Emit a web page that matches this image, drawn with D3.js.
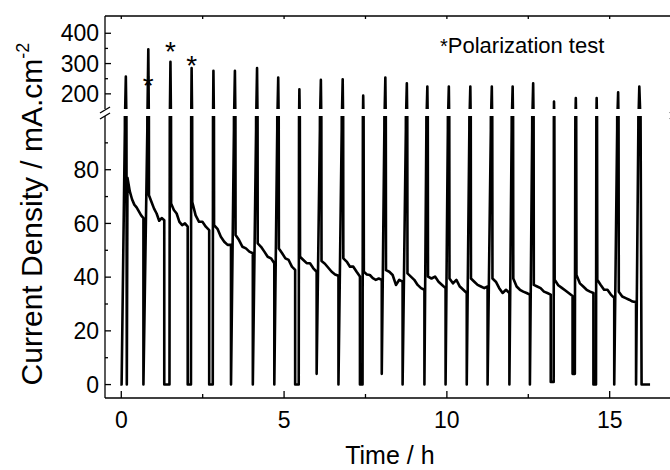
<!DOCTYPE html>
<html><head><meta charset="utf-8">
<script src="https://cdn.jsdelivr.net/npm/d3@7"></script>
<style>html,body{margin:0;padding:0;background:#fff;}svg{display:block;}</style>
</head><body>
<script>
// ---- data (time in hours, current density in mA/cm2) ----
const spikeTime = [0.14, 0.83, 1.51, 2.16, 2.83, 3.49, 4.17, 4.82, 5.47, 6.13, 6.80, 7.43, 8.11, 8.77, 9.40, 10.06, 10.72, 11.38, 12.02, 12.65, 13.29, 13.96, 14.60, 15.26, 15.91];
const spikePeak = [257, 347, 306, 285, 276, 276, 285, 254, 215, 246, 248, 194, 254, 235, 224, 224, 224, 224, 224, 235, 175, 186, 186, 205, 224];
const dropTime  = [0.68, 1.32, 2.04, 2.70, 3.37, 4.04, 4.70, 5.34, 6.00, 6.67, 7.33, 8.00, 8.64, 9.31, 9.96, 10.61, 11.25, 11.92, 12.55, 13.19, 13.86, 14.50, 15.14, 15.81];
const dropMin   = [0, 0, 0, 0, 0, 0, 0, 0, 4, 0, 0, 4, 0, 0, 0, 0, 0, 0, 0, 1, 4, 0, 0, 0];
const riseStart = [0.68, 1.48, 2.14, 2.81, 3.37, 4.04, 4.70, 5.45, 6.00, 6.67, 7.41, 8.00, 8.64, 9.31, 9.96, 10.61, 11.25, 11.92, 12.55, 13.28, 13.93, 14.58, 15.14, 15.81];
const decay = [
  [77, 72, 69, 67, 66, 64.5, 63, 62],
  [70.5, 68, 65.5, 63.7, 61, 62, 61.2],
  [67.4, 65, 63.7, 60.6, 59.4, 60, 58.8],
  [68, 63, 60.6, 60.6, 58.8, 57.5],
  [59.4, 58, 55, 53.2, 52, 52],
  [55.7, 53.8, 51.3, 50.7, 49.5, 48.9],
  [52.6, 51.3, 49.5, 47.6, 47, 45.2],
  [50.7, 48.9, 47, 46.4, 43.9, 42.7],
  [47.6, 46.4, 45.2, 45.2, 43.3, 42],
  [46, 45, 43.5, 42, 41, 40.5],
  [47, 45.8, 43.9, 43.9, 42, 40.2],
  [42, 41, 40.8, 39.6, 39, 39.5, 39],
  [42.6, 42, 40.8, 37.1, 39, 38.3],
  [41.4, 40.2, 39, 37.1, 35.9, 35.3],
  [40.2, 39.5, 40.2, 38.3, 37.1, 35.9],
  [39.5, 37.7, 39, 36.5, 35.3, 34.1],
  [39.5, 38.3, 37.1, 36.5, 35.9, 36.5],
  [39.5, 38.3, 35.9, 34.1, 35.3, 34.1],
  [39.5, 36.5, 35.3, 34.6, 34.1, 33.5],
  [37.1, 36.5, 35.9, 34.6, 34.1, 33.5],
  [39, 37, 36, 35, 34, 33],
  [40.8, 37.7, 36.5, 35.3, 34.6, 34.1],
  [39, 37.1, 35.3, 35.3, 33.5, 32.3],
  [34.6, 32.8, 32.2, 31.6, 30.9, 30.7]
];
const leadTime = [-0.03, 0.01], leadValue = [0, 0];
const firstDipTime = 0.17, firstDipValue = 0, firstRecoverTime = 0.19;
const tailTime = [15.98, 16.24], tailValue = [0, 0];
const polarizedSpikes = [1, 2, 3];
const starValue = [244, 354, 307];
const xTicks = [0, 5, 10, 15];
const xMinorTicks = [2.5, 7.5, 12.5];
const yLowTicks = [0, 20, 40, 60, 80];
const yLowMinor = [10, 30, 50, 70, 90];
const yHighTicks = [200, 300, 400];
const yHighMinor = [250, 350];

// ---- build trace ----
const pts = [];
leadTime.forEach((t, i) => pts.push([t, leadValue[i]]));
spikeTime.forEach((ts, i) => {
  if (i > 0) {
    const j = i - 1;
    pts.push([dropTime[j], dropMin[j]]);
    if (riseStart[j] > dropTime[j]) pts.push([riseStart[j], dropMin[j]]);
    if (ts - riseStart[j] > 0.06) pts.push([ts - 0.03, 95]);
  } else {
    pts.push([ts - 0.03, 95]);
  }
  pts.push([ts, spikePeak[i]]);
  if (i === 0) pts.push([firstDipTime, firstDipValue]);
  if (i < decay.length) {
    const d = decay[i];
    const t0 = i === 0 ? firstRecoverTime : ts + 0.02;
    const t1 = dropTime[i];
    d.forEach((v, k) => pts.push([t0 + k * (t1 - t0) / (d.length - 1), v]));
  }
});
tailTime.forEach((t, i) => pts.push([t, tailValue[i]]));

// ---- layout ----
const W = 670, H = 470;
const L = 105, R = 674.8, T = 16, B = 398;
const upBottom = 109, lowTop = 116;
const FONT = "Arial, 'Liberation Sans', Helvetica, sans-serif";

const svg = d3.select("body").append("svg").attr("width", W).attr("height", H)
  .style("font-family", FONT);

const x = d3.scaleLinear().domain([-0.5, 17]).range([L, R]);
const yLow = d3.scaleLinear().domain([-5, 100]).range([B, lowTop]);
const yHigh = d3.scaleLinear().domain([150, 457]).range([upBottom, T]);

const defs = svg.append("defs");
defs.append("clipPath").attr("id", "clipLow").append("rect")
  .attr("x", L).attr("y", lowTop).attr("width", R - L).attr("height", B - lowTop);
defs.append("clipPath").attr("id", "clipHigh").append("rect")
  .attr("x", L).attr("y", T).attr("width", R - L).attr("height", upBottom - T);

const lineLow = d3.line().x(d => x(d[0])).y(d => yLow(d[1]));
const lineHigh = d3.line().x(d => x(d[0])).y(d => yHigh(d[1]));

svg.append("path").datum(pts).attr("clip-path", "url(#clipLow)")
  .attr("d", lineLow).attr("fill", "none").attr("stroke", "#000")
  .attr("stroke-width", 2.6).attr("stroke-linejoin", "round");
svg.append("path").datum(pts).attr("clip-path", "url(#clipHigh)")
  .attr("d", lineHigh).attr("fill", "none").attr("stroke", "#000")
  .attr("stroke-width", 2.6).attr("stroke-linejoin", "round");

// ---- axes ----
const ax = svg.append("g").attr("stroke", "#000").attr("stroke-width", 1.3);
ax.append("line").attr("x1", L).attr("x2", R).attr("y1", B).attr("y2", B);
ax.append("line").attr("x1", L).attr("x2", R).attr("y1", T).attr("y2", T);
ax.append("line").attr("x1", L).attr("x2", L).attr("y1", T).attr("y2", upBottom);
ax.append("line").attr("x1", L).attr("x2", L).attr("y1", lowTop).attr("y2", B);
ax.append("line").attr("x1", R).attr("x2", R).attr("y1", T).attr("y2", upBottom);
ax.append("line").attr("x1", R).attr("x2", R).attr("y1", lowTop).attr("y2", B);
[L, R].forEach(px => {
  [upBottom + 1, lowTop].forEach(py => {
    ax.append("line").attr("x1", px - 5).attr("y1", py + 3).attr("x2", px + 5).attr("y2", py - 3)
      .attr("stroke-width", 1.4);
  });
});
xTicks.forEach(t => ax.append("line").attr("x1", x(t)).attr("x2", x(t)).attr("y1", B).attr("y2", B - 7));
xMinorTicks.forEach(t => ax.append("line").attr("x1", x(t)).attr("x2", x(t)).attr("y1", B).attr("y2", B - 4));
xTicks.concat(xMinorTicks).forEach(t => ax.append("line").attr("x1", x(t)).attr("x2", x(t)).attr("y1", T).attr("y2", T + 3));
yLowTicks.forEach(v => ax.append("line").attr("x1", L).attr("x2", L + 6).attr("y1", yLow(v)).attr("y2", yLow(v)));
yLowMinor.forEach(v => ax.append("line").attr("x1", L).attr("x2", L + 3).attr("y1", yLow(v)).attr("y2", yLow(v)));
yHighTicks.forEach(v => ax.append("line").attr("x1", L).attr("x2", L + 6).attr("y1", yHigh(v)).attr("y2", yHigh(v)));
yHighMinor.forEach(v => ax.append("line").attr("x1", L).attr("x2", L + 3).attr("y1", yHigh(v)).attr("y2", yHigh(v)));

// tick labels
const fs = 23;
xTicks.forEach(t => svg.append("text").attr("x", x(t)).attr("y", 428)
  .attr("text-anchor", "middle").attr("font-size", fs).text(t));
yLowTicks.forEach(v => svg.append("text").attr("x", 99).attr("y", yLow(v) + 8.2)
  .attr("text-anchor", "end").attr("font-size", fs).text(v));
yHighTicks.forEach(v => svg.append("text").attr("x", 99).attr("y", yHigh(v) + 8.2)
  .attr("text-anchor", "end").attr("font-size", fs).text(v));

// axis titles
svg.append("text").attr("x", x(8.25)).attr("y", 464).attr("text-anchor", "middle")
  .attr("font-size", 25).text("Time / h");
const yt = svg.append("text").attr("transform", "translate(42,214) rotate(-90)")
  .attr("text-anchor", "middle").attr("font-size", 30);
yt.append("tspan").text("Current Density / mA.cm");
yt.append("tspan").attr("font-size", 18).attr("dy", -13).text("-2");

// asterisks for polarization tests
polarizedSpikes.forEach((i, k) => {
  svg.append("text").attr("x", x(spikeTime[i])).attr("y", yHigh(starValue[k]) + 14)
    .attr("text-anchor", "middle").attr("font-size", 28).text("*");
});

const pol = svg.append("text").attr("x", 440).attr("y", 53).attr("font-size", 22);
pol.append("tspan").attr("font-size", 20).text("*");
pol.append("tspan").text("Polarization test");
</script>
</body></html>
